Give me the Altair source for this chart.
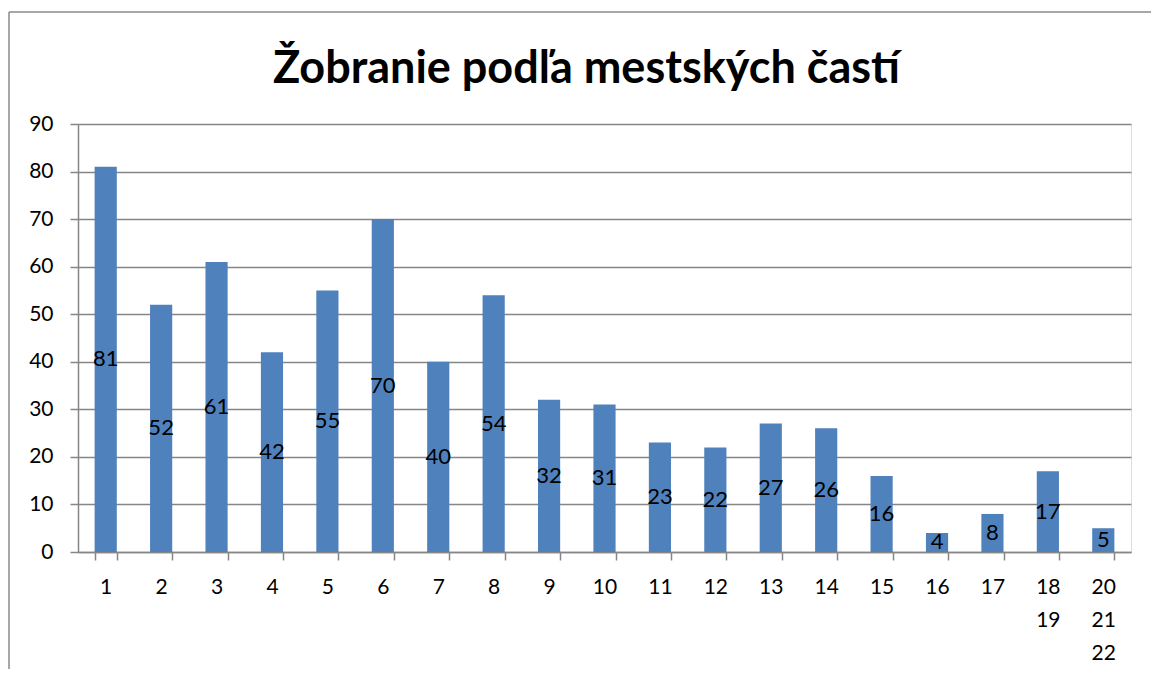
import altair as alt
import pandas as pd

categories = ["1", "2", "3", "4", "5", "6", "7", "8", "9", "10", "11", "12",
              "13", "14", "15", "16", "17", "18 19", "20 21 22"]
values = [81, 52, 61, 42, 55, 70, 40, 54, 32, 31, 23, 22, 27, 26, 16, 4, 8, 17, 5]
title_text = "Žobranie podľa mestských častí"
y_ticks = [0, 10, 20, 30, 40, 50, 60, 70, 80, 90]

df = pd.DataFrame({"cat": categories, "val": values})

FONT = "Lato"
GRID = "#868686"

x_enc = alt.X("cat:N", sort=categories, title=None,
              scale=alt.Scale(paddingInner=0.6, paddingOuter=0.3),
              axis=alt.Axis(labelAngle=0, labelExpr="split(datum.label, ' ')",
                            labelFontSize=21, labelColor="black", labelFont=FONT,
                            labelLineHeight=33, labelPadding=16, labelBaseline="top",
                            tickBand="extent", tickSize=8, tickColor=GRID, tickWidth=1.5,
                            domainColor=GRID, domainWidth=1.5, grid=False))
y_enc = alt.Y("val:Q", title=None,
              scale=alt.Scale(domain=[0, 90], nice=False),
              axis=alt.Axis(values=y_ticks, labelFontSize=21, labelColor="black",
                            labelFont=FONT, labelPadding=17, tickSize=8,
                            tickColor=GRID, tickWidth=1.5, domainColor=GRID,
                            domainWidth=1.5, gridColor=GRID, gridWidth=1.5))

base = alt.Chart(df)
bars = base.mark_bar(color="#4F81BD").encode(x=x_enc, y=y_enc)
labels = base.transform_calculate(mid="datum.val / 2").mark_text(
    fontSize=22, font=FONT, color="black", baseline="middle", align="center"
).encode(x=alt.X("cat:N", sort=categories), y=alt.Y("mid:Q"), text="val:Q")

border_df = pd.DataFrame({"k": [0]})
left_border = alt.Chart(border_df).mark_rule(color="#8a8a8a", strokeWidth=1.5).encode(
    x=alt.value(-69), y=alt.value(-112), y2=alt.value(700))
top_border = alt.Chart(border_df).mark_rule(color="#8a8a8a", strokeWidth=1.5).encode(
    x=alt.value(-69), x2=alt.value(1200), y=alt.value(-112))

chart = alt.layer(bars, labels, left_border, top_border).properties(
    width=1053, height=428,
    padding={"left": 70, "top": 116, "right": 20, "bottom": 117},
    autosize=alt.AutoSizeParams(type="none"),
    title=alt.TitleParams(title_text, fontSize=45, font=FONT, fontWeight="bold",
                          color="black", anchor="middle", dx=-18, offset=0, dy=117,
                          baseline="alphabetic"),
).configure_view(stroke=None).configure(background="white")

chart.save("out.html", embed_options={"renderer": "svg", "actions": False})
